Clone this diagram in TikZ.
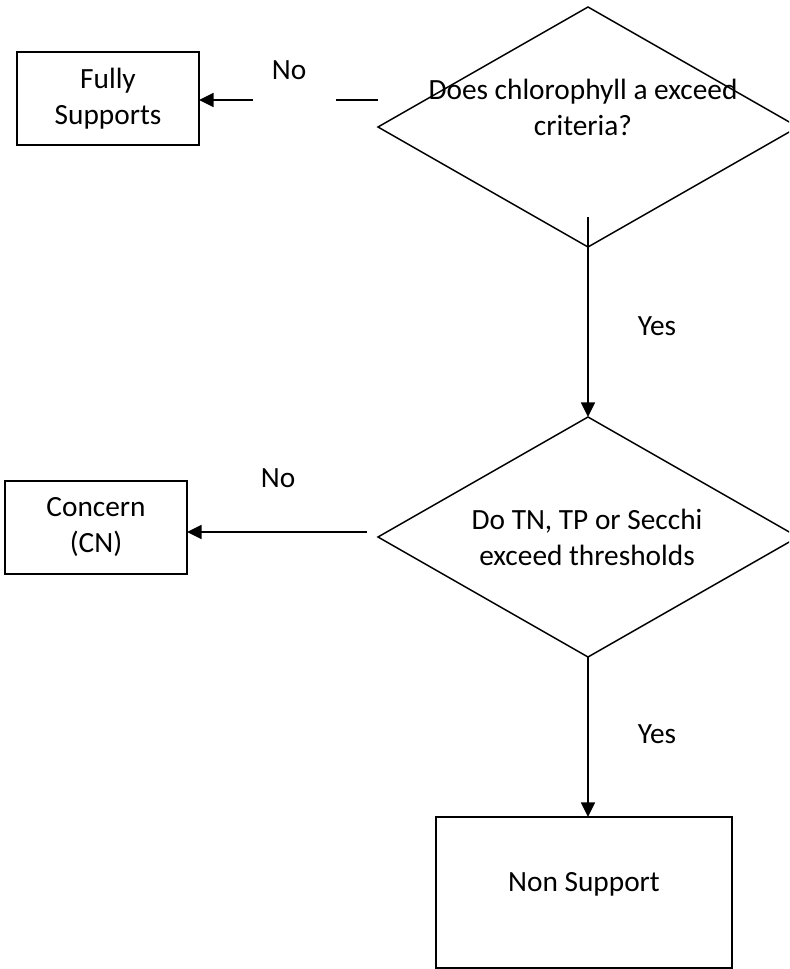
\documentclass[tikz,border=0pt]{standalone}
\usepackage{fontspec}
\setmainfont{Carlito}
\usetikzlibrary{shapes.geometric,arrows.meta}
\tikzset{
  box/.style={draw, line width=1.4pt, rectangle, inner sep=0pt, outer sep=0pt, align=center},
  decision/.style={draw, line width=1.1pt, diamond, inner sep=0pt, outer sep=0pt, minimum width=315pt, minimum height=180pt},
  txt/.style={align=center, inner sep=0pt},
  conn/.style={line width=1.3pt},
  arr/.style={conn, -{Triangle[length=11pt, width=10.5pt]}}
}
\begin{document}
\begin{tikzpicture}[x=0.75pt, y=-0.75pt, font=\fontsize{22pt}{27pt}\selectfont]
\useasboundingbox (0,0) rectangle (789,969);
\clip (0,0) rectangle (789,969);
% boxes
\node[box, minimum width=136.5pt, minimum height=69.75pt] (fs) at (108,98.5) {Fully\\Supports};
\node[box, minimum width=136.5pt, minimum height=69.75pt] (cn) at (96,527.5) {Concern\\(CN)};
\node[box, minimum width=222pt, minimum height=113.25pt] (ns) at (584,892.5) {};
\node[txt] (nstext) at (584,884) {Non Support};
% decisions
\node[decision] (d1) at (588,127) {};
\node[txt] (d1text) at (583,107.5) {Does chlorophyll a exceed\\criteria?};
\node[decision] (d2) at (588,537) {};
\node[txt] (d2text) at (587,537.5) {Do TN, TP or Secchi\\exceed thresholds};
% labels
\node[txt] (no1) at (289,70) {No};
\node[txt] (no2) at (278,478) {No};
\node[txt] (yes1) at (657,326.5) {Yes};
\node[txt] (yes2) at (657,734.5) {Yes};
% connector coordinates
\coordinate (s1) at (336,100);
\coordinate (s2) at (378,100);
\coordinate (a1) at (253,100);
\coordinate (v1) at (588,217);
\coordinate (a2) at (367,532);
% connectors
\draw[conn] (s1) -- (s2);
\draw[arr] (a1) -- (a1 -| fs.east);
\draw[arr] (v1) -- (d2.north);
\draw[arr] (a2) -- (a2 -| cn.east);
\draw[arr] (d2.south) -- (d2.south |- ns.north);
\end{tikzpicture}
\end{document}
